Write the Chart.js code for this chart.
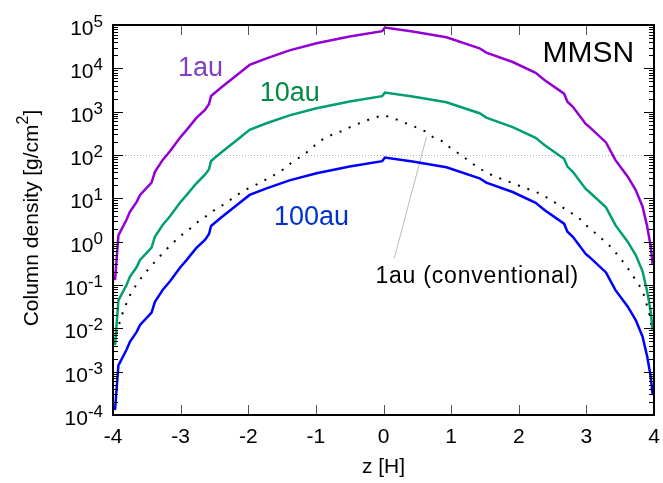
<!DOCTYPE html>
<html lang="en">
<head>
    <meta charset="UTF-8">
    <title>MMSN column density</title>
    <script src="https://cdn.jsdelivr.net/npm/chart.js"></script>
    <style>
        body { margin: 0; background: #fff; }
        canvas { display: block; }
    </style>
</head>
<body>
<canvas id="chart" width="663" height="483"></canvas>

<script>
    // z positions [H] for the three MMSN curves
    const zMMSN = [-3.97, -3.92, -3.80, -3.75, -3.65, -3.60, -3.43, -3.38, -3.26, -3.16,
        -3.01, -2.91, -2.77, -2.64, -2.58, -2.55, -2.40, -2.13, -1.98, -1.73,
        -1.39, -0.99, -0.50, -0.02, 0.02, 0.43, 0.93, 1.42, 1.52, 1.91,
        2.25, 2.38, 2.67, 2.72, 2.80, 2.99, 3.04, 3.29, 3.43, 3.61,
        3.73, 3.83, 3.90, 3.95, 3.98];

    // column density [g/cm^2]
    const sigma1au = [0.13, 1.4, 3.2, 4.9, 8.3, 12, 23, 41, 79, 120,
        250, 380, 710, 1100, 1500, 2300, 3600, 7800, 12000, 17000,
        26000, 38000, 54000, 72000, 87000, 71000, 52000, 29000, 23000, 14000,
        7900, 5400, 2600, 1700, 1300, 520, 450, 195, 76, 32,
        15.5, 6.5, 2.2, 0.79, 0.29];

    const sigma10au = [0.0041, 0.044, 0.10, 0.155, 0.26, 0.38, 0.73, 1.3, 2.5, 3.8,
        7.9, 12, 22, 35, 47, 73, 114, 247, 380, 540,
        820, 1200, 1710, 2280, 2750, 2250, 1650, 920, 730, 440,
        250, 171, 82, 54, 41, 16.5, 14.2, 6.2, 2.4, 1.0,
        0.49, 0.21, 0.070, 0.025, 0.0092];

    const sigma100au = [0.00013, 0.0014, 0.0032, 0.0049, 0.0083, 0.012, 0.023, 0.041, 0.079, 0.12,
        0.25, 0.38, 0.71, 1.1, 1.5, 2.3, 3.6, 7.8, 12, 17,
        26, 38, 54, 72, 87, 71, 52, 29, 23, 14,
        7.9, 5.4, 2.6, 1.7, 1.3, 0.52, 0.45, 0.195, 0.076, 0.032,
        0.0155, 0.0065, 0.0022, 0.00079, 0.00029];

    // conventional 1au profile (dotted)
    const zConv = [-3.97, -3.96, -3.92, -3.87, -3.81, -3.74, -3.65, -3.55, -3.45, -3.33,
        -3.23, -3.11, -2.99, -2.86, -2.74, -2.59, -2.47, -2.33, -2.20, -2.05,
        -1.90, -1.76, -1.61, -1.46, -1.34, -1.18, -1.04, -0.92, -0.77, -0.62,
        -0.48, -0.33, -0.16, 0.00, 0.14, 0.31, 0.46, 0.61, 0.73, 0.88,
        1.00, 1.15, 1.27, 1.42, 1.54, 1.72, 1.89, 2.04, 2.18, 2.33,
        2.48, 2.62, 2.75, 2.89, 3.02, 3.14, 3.26, 3.38, 3.48, 3.58,
        3.68, 3.78, 3.85, 3.90, 3.94, 3.97];
    const sigmaConv = [0.0045, 0.0065, 0.011, 0.020, 0.035, 0.062, 0.105, 0.17, 0.26, 0.42,
        0.62, 0.95, 1.4, 2.0, 2.9, 4.2, 5.9, 7.6, 11, 15.5,
        20, 26, 35, 49, 71, 100, 155, 220, 290, 355,
        450, 560, 710, 830, 710, 560, 450, 355, 260, 205,
        140, 100, 71, 49, 38, 29, 23, 18.6, 15.5, 12.6,
        9.1, 6.6, 4.9, 3.5, 2.2, 1.55, 1.05, 0.71, 0.45, 0.29,
        0.17, 0.10, 0.059, 0.032, 0.019, 0.0091];

    const xTicks = [-4, -3, -2, -1, 0, 1, 2, 3, 4];
    const yExponents = [-4, -3, -2, -1, 0, 1, 2, 3, 4, 5];

    const FONT = '"Liberation Sans", Arial, Helvetica, sans-serif';

    function toPoints(xs, ys) {
        return xs.map((x, i) => ({x: x, y: ys[i]}));
    }

    // text labels placed in data coordinates (left edge, baseline)
    const curveLabels = [
        {text: '1au', z: -3.04, s: 6600, color: '#7f3fbf', size: 27, spacing: 0},
        {text: '10au', z: -1.83, s: 1800, color: '#008b45', size: 27, spacing: 0},
        {text: '100au', z: -1.62, s: 2.4, color: '#0030d0', size: 27, spacing: 0},
        {text: 'MMSN', z: 2.35, s: 14000, color: '#000', size: 30, spacing: 0},
        {text: '1au (conventional)', z: -0.12, s: 0.11, color: '#000', size: 23, spacing: 0.8}
    ];
    const leader = {z1: 0.635, s1: 260, z2: 0.16, s2: 0.42};

    const decorations = {
        id: 'decorations',
        beforeDatasetsDraw(chart) {
            const {ctx, chartArea: a, scales: {x, y}} = chart;
            // dotted reference line at 10^2
            ctx.save();
            ctx.strokeStyle = '#b4b4b4';
            ctx.lineWidth = 1;
            ctx.setLineDash([1, 2]);
            const gy = Math.round(y.getPixelForValue(100)) + 0.5;
            ctx.beginPath();
            ctx.moveTo(a.left, gy);
            ctx.lineTo(a.right, gy);
            ctx.stroke();
            ctx.setLineDash([]);
            // leader line for the conventional label
            ctx.strokeStyle = '#bbb';
            ctx.beginPath();
            ctx.moveTo(x.getPixelForValue(leader.z1), y.getPixelForValue(leader.s1));
            ctx.lineTo(x.getPixelForValue(leader.z2), y.getPixelForValue(leader.s2));
            ctx.stroke();
            ctx.restore();
        },
        afterDraw(chart) {
            const {ctx, chartArea: a, scales: {x, y}} = chart;
            ctx.save();

            // y ticks, both sides, pointing inwards
            ctx.strokeStyle = '#000';
            ctx.lineWidth = 1;
            ctx.beginPath();
            yExponents.forEach(e => {
                const py = Math.round(y.getPixelForValue(Math.pow(10, e))) + 0.5;
                ctx.moveTo(a.left, py); ctx.lineTo(a.left + 10, py);
                ctx.moveTo(a.right, py); ctx.lineTo(a.right - 10, py);
                if (e < 5) {
                    for (let m = 2; m <= 9; m++) {
                        const my = Math.round(y.getPixelForValue(m * Math.pow(10, e))) + 0.5;
                        ctx.moveTo(a.left, my); ctx.lineTo(a.left + 5, my);
                        ctx.moveTo(a.right, my); ctx.lineTo(a.right - 5, my);
                    }
                }
            });
            ctx.stroke();

            // x ticks top and bottom
            ctx.strokeStyle = '#555';
            ctx.beginPath();
            xTicks.forEach(t => {
                const px = Math.round(x.getPixelForValue(t)) + 0.5;
                ctx.moveTo(px, a.bottom); ctx.lineTo(px, a.bottom - 10);
                ctx.moveTo(px, a.top); ctx.lineTo(px, a.top + 10);
            });
            ctx.stroke();

            // frame
            ctx.strokeStyle = '#000';
            ctx.lineWidth = 2;
            ctx.strokeRect(a.left, a.top, a.right - a.left, a.bottom - a.top);

            // y tick labels 10^n
            ctx.fillStyle = '#000';
            ctx.textAlign = 'right';
            ctx.textBaseline = 'alphabetic';
            yExponents.forEach(e => {
                const py = y.getPixelForValue(Math.pow(10, e));
                ctx.font = '17px ' + FONT;
                const sup = String(e);
                const w = ctx.measureText(sup).width;
                ctx.fillText(sup, 103, py + 2);
                ctx.font = '21px ' + FONT;
                ctx.fillText('10', 103 - w, py + 10);
            });

            // x tick labels
            ctx.textAlign = 'center';
            ctx.textBaseline = 'middle';
            ctx.font = '21px ' + FONT;
            xTicks.forEach(t => {
                ctx.fillText(String(t), x.getPixelForValue(t), 437);
            });
            ctx.fillText('z [H]', (a.left + a.right) / 2, 467);

            // y axis title, rotated, with superscript
            ctx.save();
            ctx.translate(32, (a.top + a.bottom) / 2 - 2);
            ctx.rotate(-Math.PI / 2);
            ctx.textBaseline = 'middle';
            ctx.textAlign = 'left';
            const p1 = 'Column density [g/cm', p2 = '2', p3 = ']';
            ctx.font = '21px ' + FONT;
            const w1 = ctx.measureText(p1).width, w3 = ctx.measureText(p3).width;
            ctx.font = '16px ' + FONT;
            const w2 = ctx.measureText(p2).width;
            let cx = -(w1 + w2 + w3) / 2;
            ctx.font = '21px ' + FONT;
            ctx.fillText(p1, cx, 0);
            ctx.font = '16px ' + FONT;
            ctx.fillText(p2, cx + w1, -8);
            ctx.font = '21px ' + FONT;
            ctx.fillText(p3, cx + w1 + w2, 0);
            ctx.restore();

            // curve labels
            ctx.textAlign = 'left';
            ctx.textBaseline = 'alphabetic';
            curveLabels.forEach(l => {
                ctx.font = l.size + 'px ' + FONT;
                ctx.letterSpacing = l.spacing + 'px';
                ctx.fillStyle = l.color;
                ctx.fillText(l.text, x.getPixelForValue(l.z), y.getPixelForValue(l.s));
            });
            ctx.letterSpacing = '0px';
            ctx.restore();
        }
    };

    new Chart(document.getElementById('chart'), {
        type: 'line',
        data: {
            datasets: [{
                label: '1au',
                data: toPoints(zMMSN, sigma1au),
                borderColor: '#9400d3',
                borderWidth: 2.5
            }, {
                label: '10au',
                data: toPoints(zMMSN, sigma10au),
                borderColor: '#009e73',
                borderWidth: 2.5
            }, {
                label: '100au',
                data: toPoints(zMMSN, sigma100au),
                borderColor: '#0000ff',
                borderWidth: 2.5
            }, {
                label: '1au (conventional)',
                data: toPoints(zConv, sigmaConv),
                borderColor: '#000',
                borderWidth: 2,
                borderDash: [2, 8]
            }]
        },
        options: {
            responsive: false,
            devicePixelRatio: 1,
            animation: false,
            layout: { padding: {left: 113, right: 9, top: 25, bottom: 68} },
            elements: { point: { radius: 0 }, line: { tension: 0, fill: false } },
            plugins: { legend: { display: false }, tooltip: { enabled: false } },
            scales: {
                x: { type: 'linear', min: -4, max: 4, display: false },
                y: { type: 'logarithmic', min: 1e-4, max: 1e5, display: false }
            }
        },
        plugins: [decorations]
    });
</script>
</body>
</html>
